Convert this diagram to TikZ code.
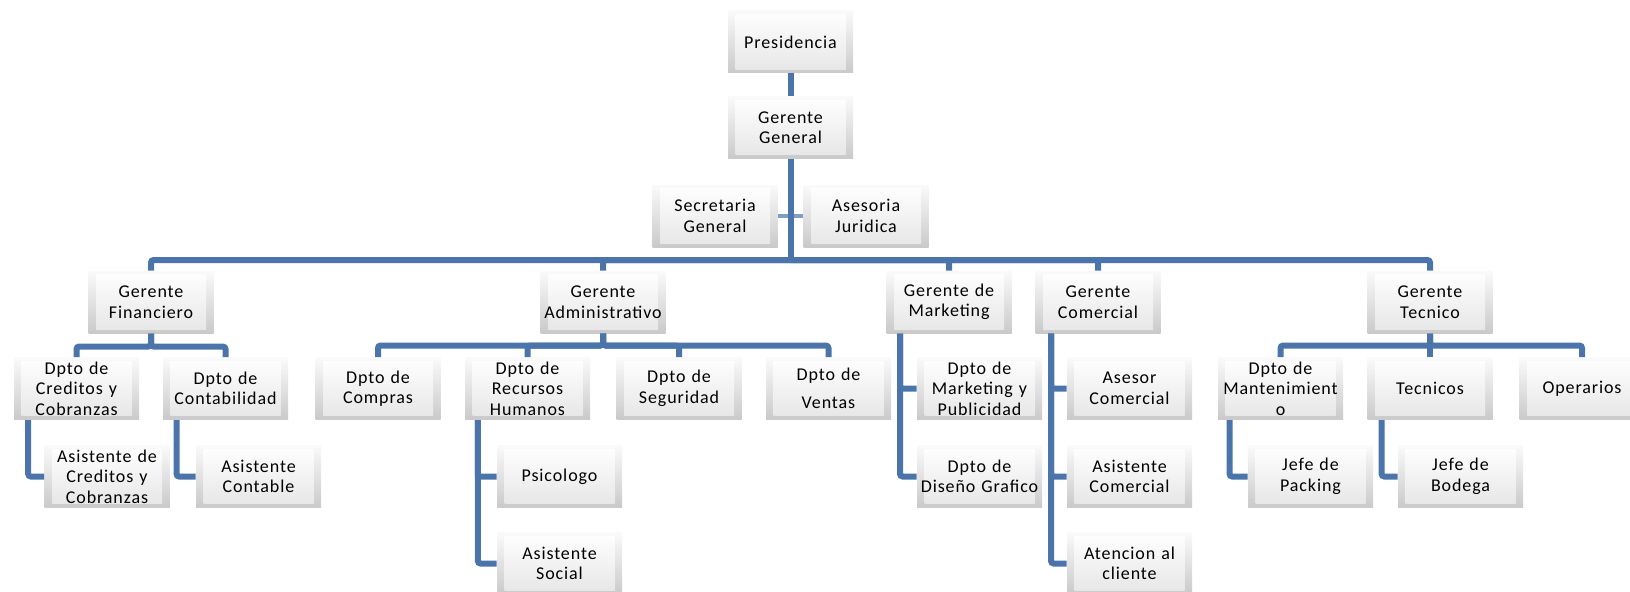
\documentclass[tikz,border=0pt]{standalone}
\usepackage{fontspec}
\newfontfamily\boxfont{Carlito}[LetterSpace=5]
\usetikzlibrary{calc}
\definecolor{linkblue}{RGB}{74,116,170}
\tikzset{every picture/.style={line width=0.75pt}}
\tikzset{
  orgbox/.style={top color=gray!4, bottom color=gray!42, minimum height=46.5pt,
    text width=93.75pt, inner xsep=0pt, inner ysep=0pt, align=center,
    font=\boxfont\fontsize{13.5}{15.4}\selectfont,
    path picture={\shade[top color=white, bottom color=gray!20]
      ($(path picture bounding box.north west)!0.06!(path picture bounding box.south east)$) rectangle
      ($(path picture bounding box.south east)!0.06!(path picture bounding box.north west)$);}},
  link/.style={draw=linkblue, line width=4.5pt, rounded corners=2pt},
  stub/.style={draw=linkblue!70, line width=3pt},
}

\begin{document}
\begin{tikzpicture}[x=0.75pt,y=0.75pt,yscale=-1,xscale=1]
	\useasboundingbox (0,0) rectangle (1630,592);
	
	%Shape: Boxes, top
	\node[orgbox] (pres) at (790.5,42) {Presidencia};
	\node[orgbox] (gg) at (790.5,127.5) {Gerente\\General};
	\node[orgbox] (secr) at (715,216) {Secretaria\\General};
	\node[orgbox] (ases) at (866,216) {Asesoria\\Juridica};
	%Shape: Boxes, managers
	\node[orgbox] (gfin) at (151,302) {Gerente\\Financiero};
	\node[orgbox] (gadm) at (603,302) {Gerente\\Administrativo};
	\node[orgbox] (gmkt) at (949,302) {Gerente de\\Marketing};
	\node[orgbox] (gcom) at (1098,302) {Gerente\\Comercial};
	\node[orgbox] (gtec) at (1430,302) {Gerente\\Tecnico};
	%Shape: Boxes, departments
	\node[orgbox] (dcred) at (76.5,388.5) {Dpto de\\Creditos y\\Cobranzas};
	\node[orgbox] (dcont) at (225.5,388.5) {Dpto de\\Contabilidad};
	\node[orgbox] (dcomp) at (378,388.5) {Dpto de\\Compras};
	\node[orgbox] (drrhh) at (527.5,388.5) {Dpto de\\Recursos\\Humanos};
	\node[orgbox] (dseg) at (679,388.5) {Dpto de\\Seguridad};
	\node[orgbox] (dvent) at (828.5,388.5) {Dpto de\\[6pt]Ventas};
	\node[orgbox] (dmkp) at (979.5,388.5) {Dpto de\\Marketing y\\Publicidad};
	\node[orgbox] (acom) at (1129.5,388.5) {Asesor\\Comercial};
	\node[orgbox] (dmant) at (1280.5,388.5) {Dpto de\\Mantenimient\\o};
	\node[orgbox] (tecn) at (1430,388.5) {Tecnicos};
	\node[orgbox] (oper) at (1582,388.5) {Operarios};
	%Shape: Boxes, fourth row
	\node[orgbox] (acred) at (107,476.5) {Asistente de\\Creditos y\\Cobranzas};
	\node[orgbox] (acont) at (258.5,476.5) {Asistente\\Contable};
	\node[orgbox] (psic) at (559.5,476.5) {Psicologo};
	\node[orgbox] (ddis) at (979.5,476.5) {Dpto de\\Diseño Grafico};
	\node[orgbox] (asic) at (1129.5,476.5) {Asistente\\Comercial};
	\node[orgbox] (jpack) at (1310.5,476.5) {Jefe de\\Packing};
	\node[orgbox] (jbod) at (1460.5,476.5) {Jefe de\\Bodega};
	%Shape: Boxes, bottom row
	\node[orgbox] (asoc) at (559.5,563.5) {Asistente\\Social};
	\node[orgbox] (aten) at (1129.5,563.5) {Atencion al\\cliente};
	
	%Straight Lines
	\draw[link] (pres) -- (gg);
	\coordinate (bus) at (790.5,260);
	\draw[stub] (secr.east) -- (ases.west);
	\draw[link] (gg.south) -- (bus);
	\foreach \m in {gfin,gadm,gmkt,gcom,gtec}
		\draw[link] (bus) -| (\m.north);
	%Straight Lines
	\foreach \c in {dcred,dcont}
		\draw[link] (gfin.south) -- ++(0,13) -| (\c.north);
	\foreach \c in {dcomp,drrhh,dseg,dvent}
		\draw[link] (gadm.south) -- ++(0,12) -| (\c.north);
	\foreach \c in {dmant,tecn,oper}
		\draw[link] (gtec.south) -- ++(0,12) -| (\c.north);
	%Straight Lines
	\draw[link] ([xshift=11pt]dcred.south west) |- (acred.west);
	\draw[link] ([xshift=10.5pt]dcont.south west) |- (acont.west);
	\foreach \c in {psic,asoc}
		\draw[link] ([xshift=10pt]drrhh.south west) |- (\c.west);
	\foreach \c in {dmkp,ddis}
		\draw[link] ([xshift=10.5pt]gmkt.south west) |- (\c.west);
	\foreach \c in {acom,asic,aten}
		\draw[link] ([xshift=12pt]gcom.south west) |- (\c.west);
	\draw[link] ([xshift=9pt]dmant.south west) |- (jpack.west);
	\draw[link] ([xshift=11pt]tecn.south west) |- (jbod.west);
	
\end{tikzpicture}
\end{document}
